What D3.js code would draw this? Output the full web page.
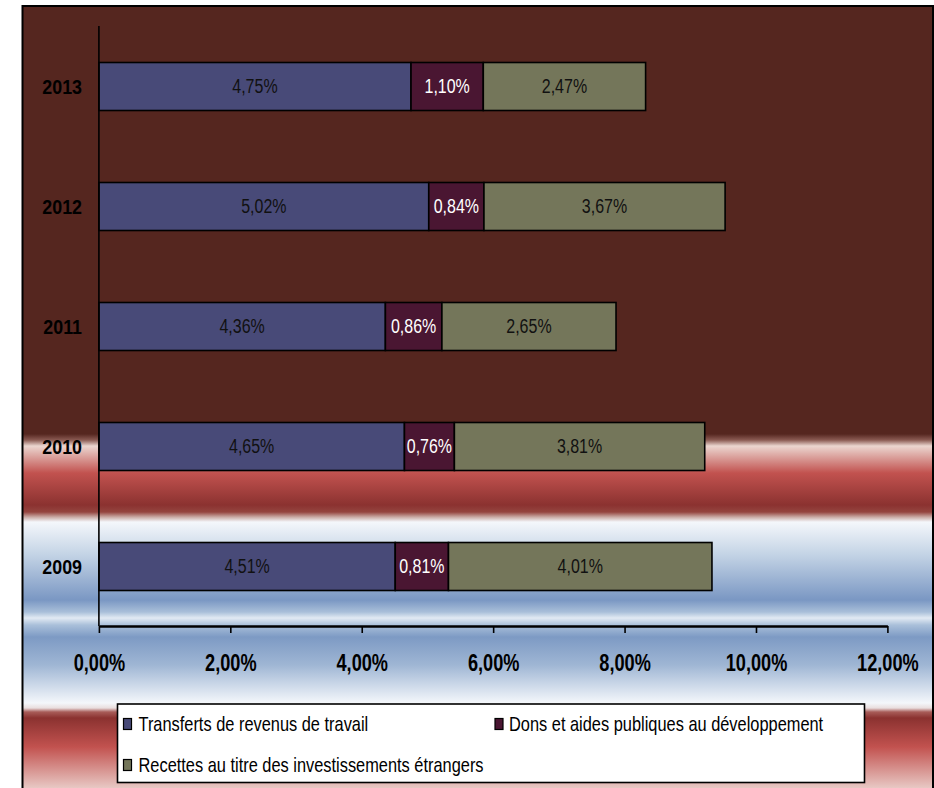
<!DOCTYPE html>
<html>
<head>
<meta charset="utf-8">
<script src="https://cdn.jsdelivr.net/npm/d3@7"></script>
<style>
  html, body { margin: 0; padding: 0; background: #ffffff; }
  svg { display: block; }
  text { font-family: "Liberation Sans", Arial, sans-serif; }
</style>
</head>
<body>
<svg id="chart" width="934" height="788"></svg>
<script>
// Années (de bas en haut)
const years = ["2009", "2010", "2011", "2012", "2013"];

// Parts en % par composante
const transferts = [4.51, 4.65, 4.36, 5.02, 4.75];
const dons = [0.81, 0.76, 0.86, 0.84, 1.10];
const recettes = [4.01, 3.81, 2.65, 3.67, 2.47];

const seriesNames = [
  "Transferts de revenus de travail",
  "Dons et aides publiques au développement",
  "Recettes au titre des investissements étrangers"
];
const seriesColors = ["#484a78", "#4a1632", "#74765a"];
const labelColors = ["#111111", "#ffffff", "#111111"];

const xTicks = [0, 2, 4, 6, 8, 10, 12];

const svg = d3.select("#chart");

// Fond dégradé de la zone du graphique
const defs = svg.append("defs");
const grad = defs.append("linearGradient")
  .attr("id", "bg")
  .attr("gradientUnits", "userSpaceOnUse")
  .attr("x1", 0).attr("y1", 6).attr("x2", 0).attr("y2", 788);
const stops = [
  [6, "#55261f"], [434, "#55261f"], [440, "#8a5a52"], [446, "#ebd6d0"],
  [473, "#c2524f"], [505, "#8b3230"], [512, "#94443f"], [517, "#c9a9a4"],
  [522, "#f4f7fb"], [555, "#c3d3e5"], [600, "#7a97c3"], [612, "#a9bfd9"],
  [618, "#e2eaf3"], [625, "#aac0da"], [637, "#7d9ac4"], [665, "#9fb6d4"],
  [703, "#f4f7fb"], [708, "#e9dede"], [712, "#a85c58"], [718, "#8b3230"],
  [747, "#c2524f"], [788, "#e8c8c4"]
];
stops.forEach(([y, c]) => {
  grad.append("stop").attr("offset", ((y - 6) / (788 - 6))).attr("stop-color", c);
});

svg.append("rect")
  .attr("x", 22.5).attr("y", 6)
  .attr("width", 910.5).attr("height", 820)
  .attr("fill", "url(#bg)")
  .attr("stroke", "#000").attr("stroke-width", 2);

// Échelles
const x = d3.scaleLinear().domain([0, 12]).range([98.9, 887.4]);
const y = d3.scaleBand()
  .domain(years.slice().reverse())
  .range([26.5, 626.5])
  .paddingInner(0.6)
  .paddingOuter(0.3);

const fmt = v => d3.format(".2f")(v).replace(".", ",") + "%";

// Texte compressé horizontalement
function sText(g, px, py, str, opts) {
  const t = g.append("text")
    .attr("transform", `translate(${px},${py}) scale(${opts.sx},1)`)
    .attr("dy", "0.35em")
    .attr("text-anchor", opts.anchor || "middle")
    .attr("font-size", opts.size)
    .attr("font-weight", opts.weight || "normal")
    .attr("fill", opts.fill || "#000")
    .text(str);
  return t;
}

// Piles
const rows = years.map((yr, i) => {
  const vals = [transferts[i], dons[i], recettes[i]];
  let acc = 0;
  return vals.map((v, k) => {
    const seg = { year: yr, k, v, x0: acc, x1: acc + v };
    acc += v;
    return seg;
  });
}).flat();

const barG = svg.append("g");
barG.selectAll("rect")
  .data(rows)
  .join("rect")
  .attr("x", d => x(d.x0))
  .attr("y", d => y(d.year))
  .attr("width", d => x(d.x1) - x(d.x0))
  .attr("height", y.bandwidth())
  .attr("fill", d => seriesColors[d.k])
  .attr("stroke", "#000")
  .attr("stroke-width", 1.6);

rows.forEach(d => {
  sText(barG, (x(d.x0) + x(d.x1)) / 2, y(d.year) + y.bandwidth() / 2, fmt(d.v),
    { sx: 0.82, size: 19.5, fill: labelColors[d.k] });
});

// Axe vertical (catégories)
svg.append("line")
  .attr("x1", x(0)).attr("x2", x(0))
  .attr("y1", 26).attr("y2", 626)
  .attr("stroke", "#000").attr("stroke-width", 1.6);

const yLab = svg.append("g");
years.forEach(yr => {
  sText(yLab, 82, y(yr) + y.bandwidth() / 2, yr,
    { sx: 0.85, size: 21, weight: "bold", anchor: "end" });
});

// Axe horizontal
const xAxis = svg.append("g")
  .attr("transform", "translate(0,626)")
  .call(d3.axisBottom(x).tickValues(xTicks).tickSize(7).tickSizeOuter(0).tickFormat(fmt));
xAxis.select(".domain").attr("stroke", "#000").attr("stroke-width", 2.4);
xAxis.selectAll(".tick line").attr("stroke", "#000").attr("stroke-width", 1.6);
xAxis.selectAll(".tick text")
  .attr("y", null)
  .attr("dy", "0.35em")
  .attr("transform", "translate(0,37) scale(0.79,1)")
  .attr("font-size", 23)
  .attr("font-weight", "bold")
  .attr("font-family", "Liberation Sans, Arial, sans-serif")
  .attr("fill", "#000");

// Légende
const leg = svg.append("g");
leg.append("rect")
  .attr("x", 117.5).attr("y", 704)
  .attr("width", 747).attr("height", 78.5)
  .attr("fill", "#fff")
  .attr("stroke", "#000").attr("stroke-width", 1.6);

const legItems = [
  { k: 0, sx: 123.5, tx: 138.5, cy: 724 },
  { k: 1, sx: 495, tx: 509, cy: 724 },
  { k: 2, sx: 123.5, tx: 138.5, cy: 765 }
];
legItems.forEach(it => {
  leg.append("rect")
    .attr("x", it.sx).attr("y", it.cy - 5.5)
    .attr("width", 8).attr("height", 11)
    .attr("fill", seriesColors[it.k])
    .attr("stroke", "#000").attr("stroke-width", 1.2);
  sText(leg, it.tx, it.cy, seriesNames[it.k],
    { sx: 0.82, size: 20, anchor: "start" });
});
</script>
</body>
</html>
